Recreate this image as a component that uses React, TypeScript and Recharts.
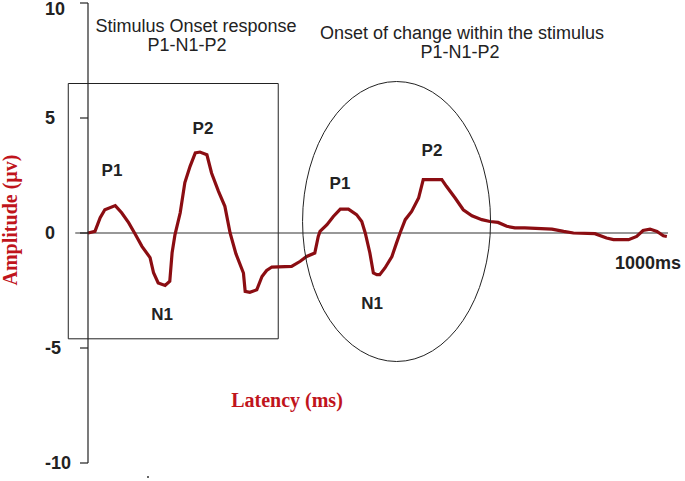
import React from "react";
import {
  LineChart,
  Line,
  XAxis,
  YAxis,
  ReferenceLine,
  ReferenceArea,
  ReferenceDot,
} from "recharts";

// latency (ms) and amplitude (µv)
const latency = [
  0, 12, 21, 29, 47, 58, 70, 81, 93, 107, 113, 121, 133, 141, 145, 150, 159, 167, 176, 185,
  193, 205, 213, 225, 236, 245, 255, 268, 271, 279, 291, 300, 308, 317, 351, 366, 377, 391, 397, 400,
  412, 423, 435, 449, 463, 472, 478, 486, 492, 498, 503, 512, 524, 532, 538, 547, 558, 570, 578, 610,
  618, 633, 647, 662, 679, 693, 707, 722, 736, 753, 800, 820, 837, 874, 894, 906, 932, 946, 957, 969,
  981, 992, 998,
];
const amplitude = [
  0, 0.07, 0.67, 1.01, 1.19, 0.88, 0.45, -0.03, -0.58, -1.07, -1.73, -2.17, -2.28, -2.1, -0.86, -0.07, 0.88, 2.19, 2.9, 3.48,
  3.52, 3.4, 2.61, 1.81, 1.16, 0, -0.9, -1.74, -2.54, -2.58, -2.47, -1.89, -1.63, -1.48, -1.45, -1.23, -1.02, -0.87, -0.15, 0.07,
  0.36, 0.72, 1.04, 1.04, 0.8, 0.5, 0, -0.87, -1.74, -1.81, -1.81, -1.52, -1.02, -0.43, 0, 0.58, 0.94, 1.52, 2.32, 2.32,
  2.03, 1.52, 1.01, 0.75, 0.58, 0.5, 0.46, 0.29, 0.22, 0.22, 0.17, 0.07, 0, -0.03, -0.22, -0.29, -0.29, -0.15, 0.11, 0.17,
  0.07, -0.12, -0.15,
];
const yTicks = [-10, -5, 0, 5, 10];

// annotation boxes (data coords)
const onsetBox = { x1: -34, x2: 328, y1: -4.6, y2: 6.5 };
const changeCenter = { x: 532, y: 0.5 };

const data = latency.map((t, i) => ({ latency: t, amp: amplitude[i] }));

const SANS = "'Liberation Sans', Arial, sans-serif";
const SERIF = "'Liberation Serif', 'Times New Roman', serif";
const RED = "#c0141c";
const INK = "#222";

const YTick = (props: any) => {
  const { y, payload } = props;
  return (
    <text
      x={45}
      y={Math.max(y, 9)}
      dominantBaseline="central"
      textAnchor="start"
      fontFamily={SANS}
      fontWeight="bold"
      fontSize={18}
      fill={INK}
    >
      {payload.value}
    </text>
  );
};

const Ellipse = (props: any) => (
  <ellipse cx={props.cx} cy={props.cy} rx={94} ry={140} fill="none" stroke={INK} strokeWidth={1} />
);

const peakStyle = { fontFamily: SANS, fontWeight: "bold" as const, fontSize: 17, fill: INK };
const titleStyle = { fontFamily: SANS, fontSize: 18, fill: INK };

export default function App() {
  return (
    <div style={{ position: "absolute", left: 0, top: 0, width: 685, height: 481, background: "#fff" }}>
      <LineChart width={685} height={481} data={data} margin={{ top: 3, right: 17, bottom: 18, left: 0 }}>
        <XAxis dataKey="latency" type="number" domain={[0, 1000]} hide />
        <YAxis
          type="number"
          domain={[-10, 10]}
          ticks={yTicks}
          width={88}
          tickSize={8}
          tick={<YTick />}
          axisLine={{ stroke: INK, strokeWidth: 1.2 }}
          tickLine={{ stroke: INK, strokeWidth: 1.2 }}
        />
        <ReferenceLine
          segment={[
            { x: -22, y: 0 },
            { x: 1000, y: 0 },
          ]}
          ifOverflow="visible"
          stroke="#333"
          strokeWidth={1.2}
        />
        <ReferenceArea
          x1={onsetBox.x1}
          x2={onsetBox.x2}
          y1={onsetBox.y1}
          y2={onsetBox.y2}
          ifOverflow="visible"
          fill="none"
          fillOpacity={0}
          stroke={INK}
          strokeWidth={1}
        />
        <ReferenceDot x={changeCenter.x} y={changeCenter.y} r={1} shape={<Ellipse />} />
        <Line
          type="linear"
          dataKey="amp"
          stroke="#8b0d12"
          strokeWidth={3.2}
          dot={false}
          isAnimationActive={false}
        />
      </LineChart>
      <svg
        width={685}
        height={481}
        style={{ position: "absolute", left: 0, top: 0, pointerEvents: "none" }}
      >
        <g textAnchor="middle" dominantBaseline="central">
          <text x={196} y={26} {...titleStyle}>Stimulus Onset response</text>
          <text x={187} y={45} {...titleStyle}>P1-N1-P2</text>
          <text x={462} y={33} {...titleStyle}>Onset of change within the stimulus</text>
          <text x={460} y={52} {...titleStyle}>P1-N1-P2</text>
          <text x={112} y={170} {...peakStyle}>P1</text>
          <text x={203} y={128} {...peakStyle}>P2</text>
          <text x={162} y={314} {...peakStyle}>N1</text>
          <text x={340} y={183} {...peakStyle}>P1</text>
          <text x={432} y={150} {...peakStyle}>P2</text>
          <text x={372} y={303} {...peakStyle}>N1</text>
          <text x={648} y={263} {...peakStyle} fontSize={18}>1000ms</text>
          <text x={287} y={400} fontFamily={SERIF} fontWeight="bold" fontSize={20} fill={RED}>
            Latency (ms)
          </text>
          <text
            x={10}
            y={220}
            transform="rotate(-90 10 220)"
            fontFamily={SERIF}
            fontWeight="bold"
            fontSize={20}
            fill={RED}
          >
            Amplitude (µv)
          </text>
        </g>
        <rect x={147} y={476} width={2} height={2} fill="#666" />
      </svg>
    </div>
  );
}
